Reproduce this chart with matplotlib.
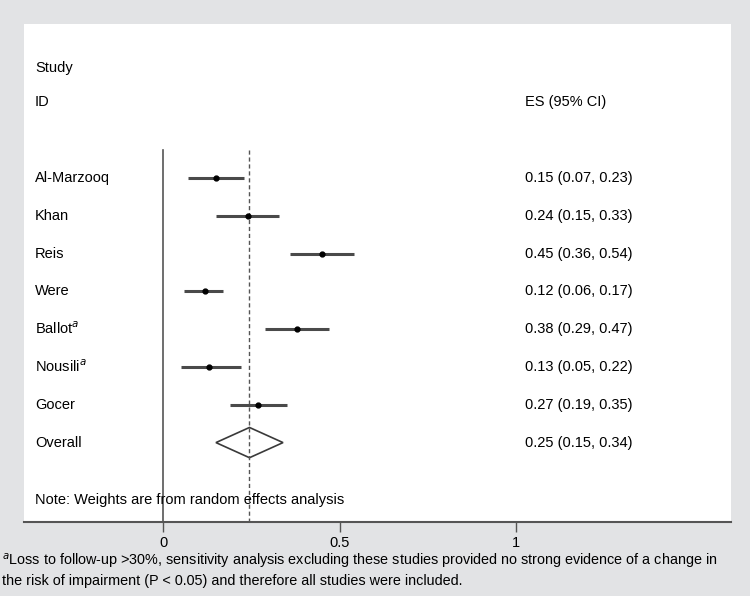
import matplotlib.pyplot as plt
import matplotlib.patches as mpatches

plt.rcParams['font.family'] = ['Liberation Sans', 'DejaVu Sans']

# study rows
studies = ["Al-Marzooq", "Khan", "Reis", "Were", "Ballot$^{a}$", "Nousili$^{a}$", "Gocer"]
es = [0.15, 0.24, 0.45, 0.12, 0.38, 0.13, 0.27]
lo = [0.07, 0.15, 0.36, 0.06, 0.29, 0.05, 0.19]
hi = [0.23, 0.33, 0.54, 0.17, 0.47, 0.22, 0.35]
overall = (0.25, 0.15, 0.34)
ticks = [0, 0.5, 1]
tick_labels = ["0", "0.5", "1"]

fig = plt.figure(figsize=(7.5, 5.96), dpi=100, facecolor='#e2e3e5')
ax = fig.add_axes([24 / 750, 1 - 522 / 596, 707 / 750, 498 / 596])
ax.set_facecolor('white')

x_left = (24 - 163) / 353
x_right = (731 - 163) / 353
ax.set_xlim(x_left, x_right)
ax.set_ylim(10.1, -3.07)

for s in ['top', 'left', 'right']:
    ax.spines[s].set_visible(False)
ax.spines['bottom'].set_color('#555555')
ax.spines['bottom'].set_linewidth(1.5)
ax.set_yticks([])
ax.set_xticks(ticks)
ax.set_xticklabels(tick_labels, fontsize=10.5)
ax.tick_params(axis='x', length=7, color='#555555', width=1, pad=3)

fs = 10.5
x_lab = (35 - 163) / 353
x_es = (525 - 163) / 353

# reference line at 0 and overall estimate dashed line
ax.plot([0, 0], [0.26, 10.1], color='#555555', lw=1.2, clip_on=False)
ax.plot([0.245, 0.245], [0.26, 10.1], color='#555555', lw=1,
        ls=(0, (3, 2)), clip_on=False)

ax.text(x_lab, -1.9, "Study", fontsize=fs, va='center')
ax.text(x_lab, -1.0, "ID", fontsize=fs, va='center')
ax.text(x_es, -1.0, "ES (95% CI)", fontsize=fs, va='center')

for i, name in enumerate(studies):
    y = i + 1
    ax.plot([lo[i], hi[i]], [y, y], color='#4a4a4a', lw=2.2, solid_capstyle='butt')
    ax.plot(es[i], y, 'o', color='black', ms=3.5)
    ax.text(x_lab, y, name, fontsize=fs, va='center')
    ax.text(x_es, y, f"{es[i]:.2f} ({lo[i]:.2f}, {hi[i]:.2f})", fontsize=fs, va='center')

# overall diamond
yo = len(studies) + 1
diamond = mpatches.Polygon([[overall[1], yo], [0.245, yo - 0.4],
                            [overall[2], yo], [0.245, yo + 0.4]],
                           closed=True, fill=False, edgecolor='#3a3a3a', lw=1.2)
ax.add_patch(diamond)
ax.text(x_lab, yo, "Overall", fontsize=fs, va='center')
ax.text(x_es, yo, f"{overall[0]:.2f} ({overall[1]:.2f}, {overall[2]:.2f})",
        fontsize=fs, va='center')

ax.text(x_lab, 9.52, "Note: Weights are from random effects analysis", fontsize=fs, va='center')

fig.text(2 / 750, 1 - 570 / 596,
         "$^{a}$Loss to follow-up >30%, sensitivity analysis excluding these studies provided no strong evidence of a change in\n"
         "the risk of impairment (P < 0.05) and therefore all studies were included.",
         fontsize=10.4, va='center', ha='left', linespacing=1.2)

fig.savefig("out.png", dpi=100, facecolor=fig.get_facecolor())
